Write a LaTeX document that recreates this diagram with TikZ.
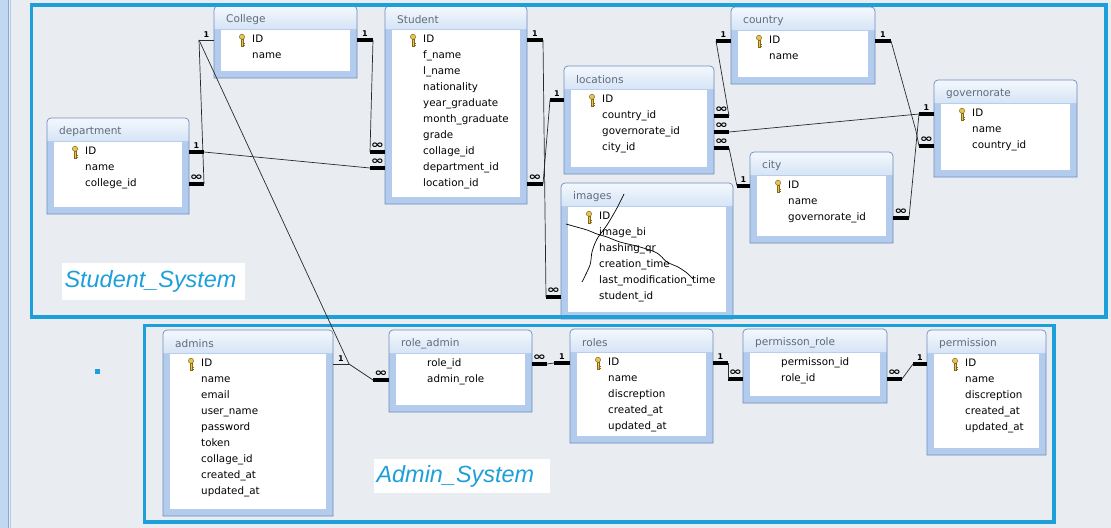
\documentclass[tikz,border=0pt]{standalone}
\usepackage{fontspec}
\setmainfont{DejaVu Sans}
\newfontfamily\sysfont{Liberation Sans}

\definecolor{bgcol}{HTML}{E9EDF1}
\definecolor{edgecol}{HTML}{C2D7F0}
\definecolor{edgeline}{HTML}{86A8D2}
\definecolor{tblfill}{HTML}{B3CBEC}
\definecolor{tblborder}{HTML}{6F8DBC}
\definecolor{hdrtop}{HTML}{F4F8FD}
\definecolor{hdrbot}{HTML}{D6E4F6}
\definecolor{titlegray}{HTML}{5E6C7E}
\definecolor{sysblue}{HTML}{1D9FDA}
\definecolor{relgray}{HTML}{2A2A2A}
\definecolor{keyfill}{HTML}{E6C455}
\definecolor{keyline}{HTML}{866712}
\definecolor{selgray}{HTML}{DCDCDC}

\newcommand{\rowfont}{\fontsize{8.8}{10}\selectfont}
\newcommand{\titlefont}{\fontsize{9}{10}\selectfont}
\newcommand{\cardfont}{\fontsize{6.8}{7}\selectfont\bfseries}
\newcommand{\many}{{\fontsize{9}{9}\selectfont\scalebox{1.5}[1.05]{∞}}}

\tikzset{
  tblline/.style={draw=tblborder, line width=0.6pt},
  rowtxt/.style={anchor=west, inner sep=0pt, font=\rowfont, text height=7pt, text depth=2pt},
  tbltitle/.style={anchor=west, inner sep=0pt, font=\titlefont, text=titlegray},
  fkstub/.style={line width=2.8pt, line cap=butt, draw=black},
  relline/.style={line width=0.6pt, draw=relgray},
  card/.style={above, inner sep=1pt, yshift=0.8pt, font=\cardfont},
  sysframe/.style={draw=sysblue, line width=2.6pt},
  syslabel/.style={anchor=west, fill=white, text=sysblue, inner sep=2pt, align=left,
                   font=\sysfont\itshape\fontsize{20}{22}\selectfont},
  scribble/.style={line width=0.6pt, draw=black},
}

% key icon: x, y of the ID row
\newcommand{\keyicon}[2]{%
  \draw[keyline, fill=keyfill, line width=0.4pt] (#1-1,#2-1) rectangle (#1+1,#2+6);
  \draw[keyline, line width=0.5pt] (#1+1,#2+3) -- (#1+2.6,#2+3) (#1+1,#2+5) -- (#1+2.6,#2+5);
  \draw[keyline, fill=keyfill, line width=0.4pt] (#1,#2-3.2) circle[radius=2.6];
}

% table: name, left, top, right, bottom, title, key (1/0), fields
\newcommand{\dbtable}[8]{%
  \fill[tblfill] (#2,#5) -- (#2,#3+4) arc[start angle=180,end angle=270,radius=4]
      -- (#4-4,#3) arc[start angle=270,end angle=360,radius=4] -- (#4,#5) -- cycle;
  \shade[top color=hdrtop, bottom color=hdrbot] (#2,#3+23) -- (#2,#3+4)
      arc[start angle=180,end angle=270,radius=4] -- (#4-4,#3)
      arc[start angle=270,end angle=360,radius=4] -- (#4,#3+23) -- cycle;
  \draw[tblline] (#2,#5) -- (#2,#3+4) arc[start angle=180,end angle=270,radius=4]
      -- (#4-4,#3) arc[start angle=270,end angle=360,radius=4] -- (#4,#5) -- cycle;
  \fill[white] (#2+7,#3+24) rectangle (#4-7,#5-7);
  \node[tbltitle] (#1-title) at (#2+12,#3+14) {#6};
  \coordinate (#1-nw) at (#2,#3);
  \coordinate (#1-se) at (#4,#5);
  \ifnum#7=1 \keyicon{#2+28}{#3+34}\fi
  \foreach \fld [count=\i] in {#8} {
    \node[rowtxt] (#1-\i) at (#2+38,#3+18+16*\i) {\fld};
  }
}

\begin{document}
\begin{tikzpicture}[x=0.03cm, y=-0.03cm]
  \useasboundingbox (0,0) rectangle (1111,528);

  % background and window edge
  \fill[bgcol] (0,0) rectangle (1111,528);
  \fill[edgecol] (0,0) rectangle (8.5,528);
  \draw[edgeline, line width=0.6pt] (8.5,0) -- (8.5,528);
  \draw[edgeline!60, line width=0.4pt] (10,0) -- (10,528);

  % Student system tables
  \dbtable{col}{214}{6}{357}{78}{College}{1}{ID, name}
  \dbtable{stu}{385}{6}{527}{204}{Student}{1}{ID, f\_name, l\_name, nationality, year\_graduate,
    month\_graduate, grade, collage\_id, department\_id, location\_id}
  \dbtable{dep}{47}{118}{189}{214}{department}{1}{ID, name, college\_id}
  \dbtable{loc}{564}{66}{714}{174}{locations}{1}{ID, country\_id, governorate\_id, city\_id}
  \dbtable{cty}{731}{7}{875}{84}{country}{1}{ID, name}
  \dbtable{gov}{934}{80}{1077}{177}{governorate}{1}{ID, name, country\_id}
  \dbtable{city}{750}{152}{893}{243}{city}{1}{ID, name, governorate\_id}
  \dbtable{img}{561}{183}{733}{319}{images}{1}{ID, image\_bi, hashing\_qr, creation\_time,
    last\_modification\_time, student\_id}

  % Admin system tables
  \dbtable{adm}{163}{330}{333}{516}{admins}{1}{ID, name, email, user\_name, password, token,
    collage\_id, created\_at, updated\_at}
  \dbtable{ra}{389}{330}{532}{412}{role\_admin}{0}{role\_id, admin\_role}
  \dbtable{rol}{570}{329}{713}{443}{roles}{1}{ID, name, discreption, created\_at, updated\_at}
  \dbtable{pr}{743}{329}{887}{403}{permisson\_role}{0}{permisson\_id, role\_id}
  \fill[selgray] (935,356) rectangle (1038,372);
  \dbtable{perm}{927}{330}{1046}{455}{permission}{1}{ID, name, discreption, created\_at, updated\_at}

  % scribbles over images
  \draw[scribble] plot[smooth] coordinates {(624,194) (617,208) (607,225) (597,239) (592,252) (590,265) (582,282)};
  \draw[scribble] plot[smooth] coordinates {(566,224) (573,226) (587,230) (597,234) (607,237)
    (620,242) (640,247) (657,253) (667,262) (678,267) (687,273) (693,279)};

  % frames of the two systems
  \draw[sysframe] (31.5,5) rectangle (1106,317);
  \draw[sysframe] (144.5,325.5) rectangle (1054,522);
  \node[syslabel, text width=5.35cm, minimum height=1.11cm] (stusys) at (62,281.5) {Student\_System};
  \node[syslabel, text width=5.14cm, minimum height=1.02cm] (admsys) at (374,476) {Admin\_System};
  \fill[sysblue] (95,369) rectangle (100,374);

  % College - department
  \draw[relline] (col-nw |- col-1) -- node[card]{1} ++(-15,0) coordinate (j1);
  \draw[fkstub] (dep-se |- dep-3) -- node[card]{\many} ++(15,0) coordinate (j2);
  \draw[relline] (j1) -- (j2);

  % College - admins
  \draw[relline] (adm-se |- adm-1) -- node[card]{1} ++(16,0) coordinate (j3);
  \draw[relline] (j1) -- (j3);

  % admins - role_admin
  \draw[fkstub] (ra-nw |- ra-2) -- node[card]{\many} ++(-16,0) coordinate (j4);
  \draw[relline] (j3) -- (j4);

  % department - Student
  \draw[fkstub] (dep-se |- dep-1) -- node[card]{1} ++(15,0) coordinate (j5);
  \draw[fkstub] (stu-nw |- stu-9) -- node[card]{\many} ++(-15,0) coordinate (j6);
  \draw[relline] (j5) -- (j6);

  % College - Student
  \draw[fkstub] (col-se |- col-1) -- node[card]{1} ++(16,0) coordinate (j7);
  \draw[fkstub] (stu-nw |- stu-8) -- node[card]{\many} ++(-15,0) coordinate (j8);
  \draw[relline] (j7) -- (j8);

  % Student - images
  \draw[fkstub] (stu-se |- stu-1) -- node[card]{1} ++(16,0) coordinate (j9);
  \draw[fkstub] (img-nw |- img-6) -- node[card]{\many} ++(-15,0) coordinate (j10);
  \draw[relline] (j9) -- (j10);

  % Student - locations
  \draw[fkstub] (stu-se |- stu-10) -- node[card]{\many} ++(16,0) coordinate (j11);
  \draw[fkstub] (loc-nw |- loc-1) -- node[card]{1} ++(-14,0) coordinate (j12);
  \draw[relline] (j11) -- (j12);

  % country - locations
  \draw[fkstub] (cty-nw |- cty-1) -- node[card]{1} ++(-15,0) coordinate (j13);
  \draw[fkstub] (loc-se |- loc-2) -- node[card]{\many} ++(15,0) coordinate (j14);
  \draw[relline] (j13) -- (j14);

  % locations - governorate
  \draw[fkstub] (loc-se |- loc-3) -- node[card]{\many} ++(15,0) coordinate (j15);
  \draw[fkstub] (gov-nw |- gov-1) -- node[card]{1} ++(-15,0) coordinate (j16);
  \draw[relline] (j15) -- (j16);

  % locations - city
  \draw[fkstub] (loc-se |- loc-4) -- node[card]{\many} ++(15,0) coordinate (j17);
  \draw[fkstub] (city-nw |- city-1) -- node[card]{1} ++(-13,0) coordinate (j18);
  \draw[relline] (j17) -- (j18);

  % city - governorate
  \draw[fkstub] (city-se |- city-3) -- node[card]{\many} ++(16,0) coordinate (j19);
  \draw[relline] (j19) -- (j16);

  % country - governorate
  \draw[fkstub] (cty-se |- cty-1) -- node[card]{1} ++(16,0) coordinate (j20);
  \draw[fkstub] (gov-nw |- gov-3) -- node[card]{\many} ++(-15,0) coordinate (j21);
  \draw[relline] (j20) -- +(25,90) -- (j21);

  % role_admin - roles
  \draw[fkstub] (ra-se |- ra-1) -- node[card]{\many} ++(15,0) coordinate (j22);
  \draw[fkstub] (rol-nw |- rol-1) -- node[card]{1} ++(-16,0) coordinate (j23);
  \draw[relline] (j22) -- (j23);

  % roles - permisson_role
  \draw[fkstub] (rol-se |- rol-1) -- node[card]{1} ++(15,0) coordinate (j24);
  \draw[fkstub] (pr-nw |- pr-2) -- node[card]{\many} ++(-15,0) coordinate (j25);
  \draw[relline] (j24) -- (j25);

  % permisson_role - permission
  \draw[fkstub] (pr-se |- pr-2) -- node[card]{\many} ++(15,0) coordinate (j26);
  \draw[fkstub] (perm-nw |- perm-1) -- node[card]{1} ++(-14,0) coordinate (j27);
  \draw[relline] (j26) -- (j27);
\end{tikzpicture}
\end{document}
